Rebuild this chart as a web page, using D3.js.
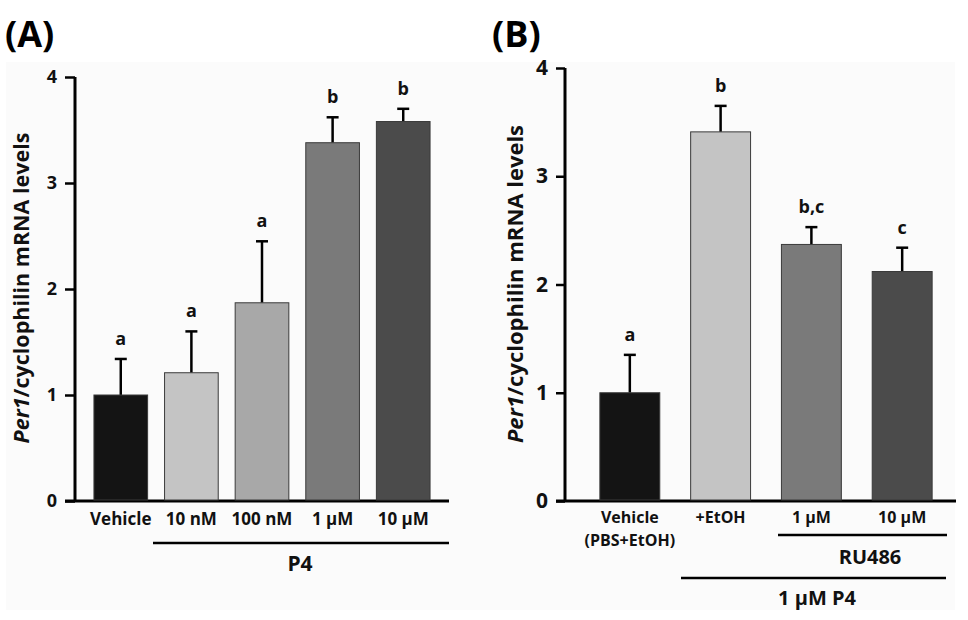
<!DOCTYPE html>
<html>
<head>
<meta charset="utf-8">
<script src="https://cdn.jsdelivr.net/npm/d3@7"></script>
<style>
  body { margin: 0; background: #fff; }
  svg { font-family: "Open Sans", "Noto Sans", sans-serif; font-weight: bold; }
</style>
</head>
<body>
<svg id="chart" width="968" height="620"></svg>
<script>
// Panel A: P4 dose response
const catsA = ["Vehicle", "10 nM", "100 nM", "1 µM", "10 µM"];
const meanA = [1.0, 1.21, 1.87, 3.38, 3.58];
const errA = [0.34, 0.39, 0.58, 0.24, 0.12];
const sigA = ["a", "a", "a", "b", "b"];

// Panel B: RU486 blocking
const catsB = ["Vehicle", "+EtOH", "1 µM", "10 µM"];
const meanB = [1.0, 3.41, 2.37, 2.12];
const errB = [0.35, 0.24, 0.16, 0.22];
const sigB = ["a", "b", "b,c", "c"];

const yTicks = [0, 1, 2, 3, 4];
const fillsA = ["#141414", "#c4c4c4", "#a8a8a8", "#7a7a7a", "#4b4b4b"];
const fillsB = ["#141414", "#c4c4c4", "#7a7a7a", "#4b4b4b"];

const svg = d3.select("#chart");

// faint panel background
svg.append("rect")
    .attr("x", 6).attr("y", 62).attr("width", 949).attr("height", 548)
    .attr("fill", "#fbfbfb");

function drawPanel(opt) {
    const g = svg.append("g");
    const y = d3.scaleLinear().domain([0, 4]).range([opt.y0, opt.y4]);
    const x = d3.scaleBand().domain(opt.cats).range(opt.xr).padding(opt.pad);

    // y axis
    const yAxis = g.append("g")
        .attr("transform", `translate(${opt.axisX},0)`)
        .call(d3.axisLeft(y).tickValues(yTicks).tickFormat(d3.format("d")).tickSize(opt.tick).tickSizeOuter(0));
    yAxis.select(".domain").attr("stroke", "#000").attr("stroke-width", 3)
        .attr("d", `M0,${opt.y0}V${opt.y4}`);
    yAxis.selectAll(".tick line").attr("stroke", "#000").attr("stroke-width", 2.5);
    yAxis.selectAll(".tick text")
        .attr("font-size", opt.tickFont).attr("font-weight", "bold")
        .attr("fill", "#111").attr("x", -opt.tick - 8)
        .attr("font-family", "Open Sans, sans-serif");

    // x axis baseline
    g.append("line")
        .attr("x1", opt.axisX - opt.tick).attr("x2", opt.xEnd)
        .attr("y1", y(0)).attr("y2", y(0))
        .attr("stroke", "#000").attr("stroke-width", 3);

    const bars = opt.cats.map((c, i) => ({ c, m: opt.mean[i], e: opt.err[i], s: opt.sig[i], f: opt.fills[i] }));

    // error bars (upper only)
    g.selectAll(".err").data(bars).enter().append("line")
        .attr("x1", d => x(d.c) + x.bandwidth() / 2).attr("x2", d => x(d.c) + x.bandwidth() / 2)
        .attr("y1", d => y(d.m)).attr("y2", d => y(d.m + d.e))
        .attr("stroke", "#000").attr("stroke-width", 2.5);
    g.selectAll(".cap").data(bars).enter().append("line")
        .attr("x1", d => x(d.c) + x.bandwidth() / 2 - 6).attr("x2", d => x(d.c) + x.bandwidth() / 2 + 6)
        .attr("y1", d => y(d.m + d.e)).attr("y2", d => y(d.m + d.e))
        .attr("stroke", "#000").attr("stroke-width", 2.5);

    g.selectAll(".bar").data(bars).enter().append("rect")
        .attr("x", d => x(d.c)).attr("width", x.bandwidth())
        .attr("y", d => y(d.m)).attr("height", d => y(0) - y(d.m) - 1)
        .attr("fill", d => d.f).attr("stroke", "#3a3a3a").attr("stroke-width", 1);

    // significance letters
    g.selectAll(".sig").data(bars).enter().append("text")
        .attr("x", d => x(d.c) + x.bandwidth() / 2)
        .attr("y", d => y(d.m + d.e) - 14)
        .attr("text-anchor", "middle").attr("font-size", 18).attr("fill", "#111")
        .text(d => d.s);

    // y label
    const yl = g.append("text")
        .attr("transform", `translate(${opt.ylX},${opt.ylY}) rotate(-90)`)
        .attr("text-anchor", "middle").attr("font-size", opt.ylFont).attr("fill", "#111");
    yl.append("tspan").attr("font-style", "italic").text("Per1");
    yl.append("tspan").text("/cyclophilin mRNA levels");

    // panel letter
    g.append("text").attr("x", opt.letterX).attr("y", 47)
        .attr("font-size", 36).attr("fill", "#000").text(opt.letter);

    return { g, x, y };
}

// ---- Panel A ----
const A = drawPanel({
    cats: catsA, mean: meanA, err: errA, sig: sigA, fills: fillsA,
    y0: 501, y4: 77, xr: [77, 447], pad: 0.24, axisX: 75, tick: 10, xEnd: 449,
    tickFont: 18, ylX: 29, ylY: 288, ylFont: 21.5, letter: "(A)", letterX: 5
});
A.g.selectAll(".xl").data(catsA).enter().append("text")
    .attr("x", d => A.x(d) + A.x.bandwidth() / 2).attr("y", 525)
    .attr("text-anchor", "middle").attr("font-size", 17).attr("fill", "#111")
    .text(d => d);
A.g.append("line").attr("x1", 153).attr("x2", 449).attr("y1", 543).attr("y2", 543)
    .attr("stroke", "#000").attr("stroke-width", 2.5);
A.g.append("text").attr("x", 300).attr("y", 571).attr("text-anchor", "middle")
    .attr("font-size", 21).attr("fill", "#111").text("P4");

// ---- Panel B ----
const B = drawPanel({
    cats: catsB, mean: meanB, err: errB, sig: sigB, fills: fillsB,
    y0: 501, y4: 68, xr: [569, 963], pad: 0.34, axisX: 565, tick: 9, xEnd: 956,
    tickFont: 21, ylX: 523, ylY: 284, ylFont: 22, letter: "(B)", letterX: 492
});
const xlB = [["Vehicle", "(PBS+EtOH)"], ["+EtOH"], ["1 µM"], ["10 µM"]];
B.g.selectAll(".xl").data(catsB).enter().append("text")
    .attr("text-anchor", "middle").attr("font-size", 16).attr("fill", "#111")
    .each(function (d, i) {
        const t = d3.select(this);
        xlB[i].forEach((line, j) => {
            t.append("tspan").attr("x", B.x(d) + B.x.bandwidth() / 2)
                .attr("y", 523 + j * 23).text(line);
        });
    });
B.g.append("line").attr("x1", 778).attr("x2", 947).attr("y1", 535).attr("y2", 535)
    .attr("stroke", "#000").attr("stroke-width", 2.5);
B.g.append("text").attr("x", 870).attr("y", 564).attr("text-anchor", "middle")
    .attr("font-size", 20).attr("fill", "#111").text("RU486");
B.g.append("line").attr("x1", 681).attr("x2", 946).attr("y1", 578).attr("y2", 578)
    .attr("stroke", "#000").attr("stroke-width", 2.5);
B.g.append("text").attr("x", 817).attr("y", 605).attr("text-anchor", "middle")
    .attr("font-size", 20).attr("fill", "#111").text("1 µM P4");
</script>
</body>
</html>
